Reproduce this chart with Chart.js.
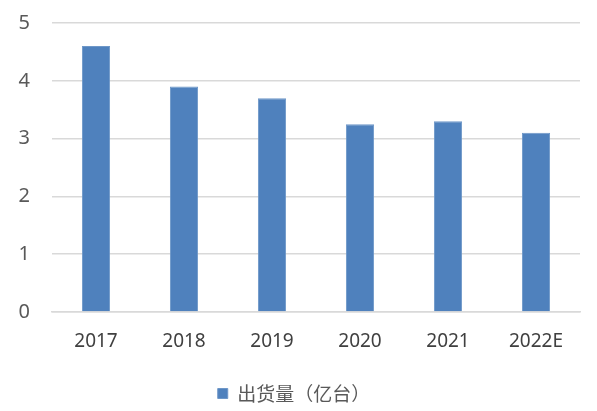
<!DOCTYPE html>
<html>
<head>
<meta charset="utf-8">
<script src="https://cdn.jsdelivr.net/npm/chart.js@4"></script>
<style>
  html, body { margin: 0; padding: 0; background: #fff; }
  #wrap { width: 597px; height: 411px; position: relative; }
</style>
</head>
<body>
<div id="wrap"><canvas id="chart"></canvas></div>
<script>
// data
var years = ['2017', '2018', '2019', '2020', '2021', '2022E'];
var shipments = [4.6, 3.9, 3.7, 3.25, 3.3, 3.1];
var seriesName = '出货量（亿台）';

var fontFamily = '"Noto Sans", "Noto Sans CJK SC", sans-serif';
var cjkFont = '"Noto Sans CJK SC", "Noto Sans", sans-serif';

new Chart(document.getElementById('chart'), {
  type: 'bar',
  data: {
    labels: years,
    datasets: [{
      label: seriesName,
      data: shipments,
      backgroundColor: '#4F81BD',
      borderColor: '#6E97C8',
      borderWidth: 1,
      barPercentage: 0.32,
      categoryPercentage: 1
    }]
  },
  options: {
    responsive: true,
    maintainAspectRatio: false,
    animation: false,
    layout: { padding: { top: 23, right: 17, left: 8, bottom: -2 } },
    scales: {
      y: {
        min: 0,
        max: 5,
        ticks: { stepSize: 1, color: '#595959', font: { family: fontFamily, size: 20 }, padding: 22 },
        grid: { color: '#D9D9D9', lineWidth: 1.5, drawTicks: false },
        border: { display: false },
        afterFit: function(scale) {
          scale.width = 44;
          scale.paddingTop = 0;
          scale.paddingBottom = 0;
        }
      },
      x: {
        ticks: { color: '#404040', font: { family: fontFamily, size: 19 }, padding: 18 },
        grid: { display: false, drawTicks: false },
        border: { color: '#D9D9D9', width: 1.5 },
        afterFit: function(scale) { scale.height = 60; }
      }
    },
    plugins: {
      legend: {
        position: 'bottom',
        labels: {
          boxWidth: 10,
          boxHeight: 10,
          color: '#595959',
          font: { family: cjkFont, size: 19 },
          padding: 12
        }
      },
      tooltip: { enabled: false }
    }
  }
});
</script>
</body>
</html>
